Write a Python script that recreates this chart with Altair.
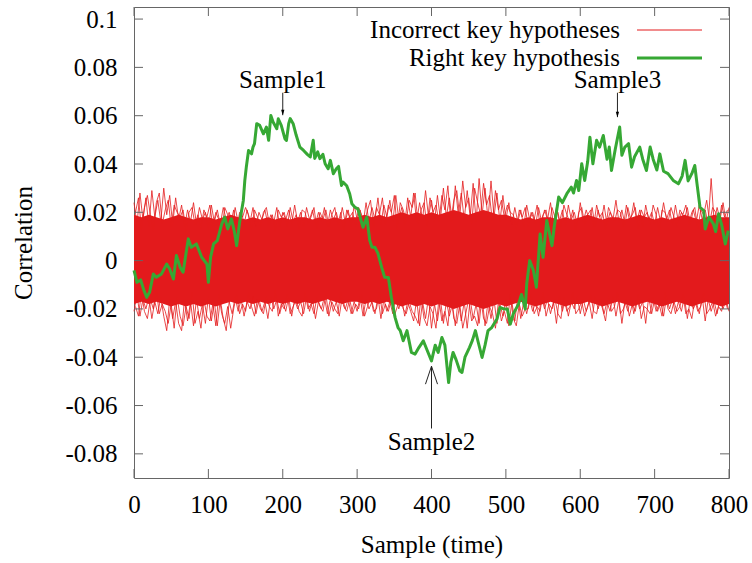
import altair as alt
import pandas as pd

RED = "#e31a1c"
GREEN = "#36a834"
FONT = "Liberation Serif"

# ---- Right key hypothesis (green) ----
green_x = [0, 4, 9, 13, 17, 21, 26, 30, 37, 44, 48, 53, 57, 62, 66, 73, 77, 84, 91, 98,
           100, 103, 107, 112, 118, 122, 126, 131, 135, 138, 142, 147, 149, 151, 154, 158, 160, 162, 165, 169,
           174, 178, 181, 184, 187, 192, 194, 198, 203, 205, 208, 210, 214, 218, 223, 228, 233, 237, 241, 243,
           247, 250, 254, 257, 261, 264, 268, 272, 275, 279, 281, 286, 290, 293, 297, 301, 304, 308, 313, 317,
           320, 324, 328, 333, 337, 342, 346, 351, 355, 358, 362, 367, 373, 378, 383, 389, 394, 400, 405, 409,
           414, 418, 423, 426, 429, 433, 438, 441, 445, 451, 455, 459, 463, 468, 472, 476, 481, 488, 492, 497,
           502, 506, 510, 517, 521, 526, 528, 532, 537, 541, 546, 550, 555, 562, 565, 571, 576, 582, 588, 591,
           595, 598, 602, 606, 610, 613, 617, 622, 626, 631, 636, 639, 642, 647, 653, 656, 660, 665, 669, 673,
           680, 684, 689, 694, 698, 703, 707, 712, 718, 725, 732, 737, 741, 745, 750, 754, 757, 761, 766, 768,
           773, 779, 782, 786, 790, 795, 799]
green_y = [-0.004, -0.009, -0.008, -0.012, -0.0152, -0.0131, -0.0055, -0.0069, -0.0055, -0.0014,
           -0.0035, -0.0076, 0.0021, -0.0028, -0.0048, 0.009, 0.0055, 0.0069, 0.0014, -0.0014,
           -0.009, 0.0014, 0.0069, 0.0083, 0.0152, 0.018, 0.0131, 0.0173, 0.012, 0.0062,
           0.0159, 0.0249, 0.0332, 0.0387, 0.0456, 0.0442, 0.047, 0.0484, 0.0567, 0.056,
           0.0525, 0.0553, 0.0498, 0.0601, 0.0574, 0.0546, 0.0587, 0.056, 0.0504, 0.0498,
           0.0567, 0.0588, 0.0567, 0.052, 0.047, 0.0456, 0.044, 0.0429, 0.0498, 0.0423,
           0.045, 0.0422, 0.044, 0.0401, 0.038, 0.0415, 0.036, 0.038, 0.039, 0.0311,
           0.0325, 0.031, 0.0277, 0.0235, 0.0221, 0.0214, 0.018, 0.0138, 0.018, 0.0083,
           0.0055, 0.0055, 0.003, -0.0028, -0.0069, -0.007, -0.0152, -0.0235, -0.0277, -0.029,
           -0.0332, -0.029, -0.038, -0.0387, -0.036, -0.0332, -0.037, -0.0415, -0.035, -0.038,
           -0.0318, -0.035, -0.0505, -0.042, -0.038, -0.041, -0.0456, -0.0463, -0.04, -0.036,
           -0.033, -0.029, -0.034, -0.0401, -0.035, -0.029, -0.0277, -0.0242, -0.0194, -0.02,
           -0.02, -0.0263, -0.022, -0.018, -0.014, -0.02, -0.0097, 0.0, -0.004, -0.011,
           0.011, 0.0014, 0.0166, 0.0062, 0.014, 0.0263, 0.024, 0.0277, 0.0304, 0.028,
           0.0332, 0.029, 0.0401, 0.0332, 0.041, 0.0511, 0.0401, 0.0498, 0.047, 0.0518,
           0.042, 0.047, 0.0373, 0.046, 0.0553, 0.0436, 0.047, 0.0484, 0.0387, 0.043,
           0.047, 0.042, 0.0373, 0.047, 0.042, 0.0375, 0.0442, 0.037, 0.036, 0.0332,
           0.0318, 0.035, 0.0415, 0.033, 0.036, 0.0394, 0.0318, 0.0221, 0.0207, 0.0131,
           0.018, 0.0152, 0.012, 0.0194, 0.015, 0.0069, 0.0124]

# ---- Incorrect key hypotheses (red band) ----
core_x = list(range(0, 801, 10))
core_hi = [0.019, 0.018, 0.019, 0.018, 0.017, 0.018, 0.019, 0.018, 0.017, 0.018,
           0.018, 0.017, 0.018, 0.019, 0.018, 0.017, 0.018, 0.017, 0.018, 0.017,
           0.018, 0.017, 0.018, 0.018, 0.017, 0.018, 0.017, 0.018, 0.017, 0.018,
           0.018, 0.019, 0.018, 0.019, 0.018, 0.019, 0.020, 0.019, 0.020, 0.019,
           0.020, 0.019, 0.020, 0.021, 0.020, 0.019, 0.020, 0.021, 0.020, 0.019,
           0.019, 0.018, 0.017, 0.018, 0.017, 0.018, 0.018, 0.017, 0.018, 0.017,
           0.018, 0.019, 0.018, 0.017, 0.018, 0.018, 0.017, 0.018, 0.019, 0.018,
           0.017, 0.018, 0.017, 0.018, 0.019, 0.018, 0.017, 0.018, 0.019, 0.018,
           0.018]
core_lo = [-0.018, -0.017, -0.018, -0.017, -0.018, -0.019, -0.018, -0.019, -0.018, -0.019,
           -0.018, -0.019, -0.018, -0.017, -0.018, -0.017, -0.018, -0.017, -0.018, -0.017,
           -0.018, -0.017, -0.018, -0.017, -0.018, -0.017, -0.016, -0.017, -0.018, -0.017,
           -0.017, -0.018, -0.017, -0.018, -0.017, -0.018, -0.019, -0.018, -0.019, -0.018,
           -0.019, -0.018, -0.019, -0.020, -0.019, -0.018, -0.019, -0.020, -0.019, -0.018,
           -0.019, -0.018, -0.017, -0.018, -0.019, -0.018, -0.017, -0.018, -0.019, -0.018,
           -0.018, -0.017, -0.018, -0.019, -0.018, -0.017, -0.018, -0.019, -0.018, -0.017,
           -0.018, -0.019, -0.018, -0.017, -0.018, -0.019, -0.018, -0.017, -0.018, -0.019,
           -0.018]

# edge traces A (samples 0,4,...,800)
edge_x = list(range(0, 801, 4))
upper_edge = [0.024, 0.015, 0.028, 0.017, 0.026, 0.014, 0.029, 0.018, 0.025, 0.016,
              0.030, 0.019, 0.027, 0.015, 0.026, 0.017, 0.023, 0.014, 0.021, 0.016,
              0.024, 0.015, 0.022, 0.017, 0.020, 0.013, 0.023, 0.016, 0.021, 0.015,
              0.022, 0.017, 0.020, 0.014, 0.022, 0.016, 0.021, 0.015, 0.021, 0.016,
              0.022, 0.014, 0.020, 0.017, 0.021, 0.015, 0.019, 0.016, 0.022, 0.014,
              0.020, 0.017, 0.021, 0.015, 0.023, 0.016, 0.020, 0.014, 0.022, 0.017,
              0.021, 0.015, 0.020, 0.016, 0.022, 0.014, 0.021, 0.017, 0.020, 0.015,
              0.022, 0.016, 0.021, 0.014, 0.023, 0.017, 0.021, 0.015, 0.024, 0.016,
              0.022, 0.017, 0.026, 0.015, 0.023, 0.018, 0.025, 0.016, 0.027, 0.017,
              0.022, 0.015, 0.026, 0.018, 0.028, 0.016, 0.024, 0.017, 0.029, 0.018,
              0.025, 0.016, 0.027, 0.017, 0.030, 0.018, 0.026, 0.016, 0.031, 0.019,
              0.028, 0.017, 0.029, 0.018, 0.032, 0.016, 0.034, 0.019, 0.030, 0.017,
              0.033, 0.018, 0.028, 0.016, 0.027, 0.017, 0.024, 0.015, 0.022, 0.016,
              0.021, 0.014, 0.023, 0.017, 0.020, 0.015, 0.022, 0.016, 0.021, 0.017,
              0.024, 0.015, 0.022, 0.016, 0.021, 0.014, 0.023, 0.017, 0.020, 0.015,
              0.024, 0.016, 0.021, 0.017, 0.022, 0.014, 0.021, 0.016, 0.023, 0.015,
              0.020, 0.017, 0.025, 0.016, 0.021, 0.015, 0.022, 0.017, 0.024, 0.016,
              0.021, 0.014, 0.023, 0.017, 0.020, 0.015, 0.022, 0.016, 0.024, 0.017,
              0.021, 0.015, 0.023, 0.016, 0.020, 0.017, 0.022, 0.015, 0.021, 0.016,
              0.023, 0.017, 0.021, 0.015, 0.034, 0.016, 0.022, 0.017, 0.024, 0.016,
              0.022]
lower_edge = [-0.021, -0.014, -0.023, -0.016, -0.020, -0.015, -0.024, -0.017, -0.022, -0.015,
              -0.023, -0.029, -0.016, -0.024, -0.017, -0.026, -0.029, -0.016, -0.025, -0.017,
              -0.027, -0.016, -0.024, -0.018, -0.026, -0.015, -0.025, -0.017, -0.027, -0.016,
              -0.024, -0.029, -0.017, -0.022, -0.015, -0.021, -0.016, -0.023, -0.017, -0.020,
              -0.015, -0.022, -0.016, -0.021, -0.017, -0.024, -0.015, -0.020, -0.016, -0.022,
              -0.017, -0.021, -0.015, -0.023, -0.016, -0.020, -0.017, -0.022, -0.015, -0.021,
              -0.016, -0.024, -0.017, -0.020, -0.015, -0.022, -0.016, -0.021, -0.017, -0.023,
              -0.015, -0.020, -0.016, -0.022, -0.017, -0.021, -0.015, -0.023, -0.016, -0.020,
              -0.017, -0.022, -0.015, -0.024, -0.016, -0.021, -0.017, -0.022, -0.015, -0.020,
              -0.016, -0.023, -0.017, -0.021, -0.025, -0.016, -0.027, -0.017, -0.024, -0.015,
              -0.028, -0.018, -0.025, -0.016, -0.026, -0.017, -0.023, -0.018, -0.027, -0.016,
              -0.025, -0.017, -0.028, -0.016, -0.024, -0.018, -0.026, -0.015, -0.027, -0.017,
              -0.024, -0.016, -0.026, -0.018, -0.023, -0.016, -0.027, -0.017, -0.025, -0.015,
              -0.024, -0.017, -0.022, -0.016, -0.021, -0.017, -0.023, -0.015, -0.020, -0.016,
              -0.022, -0.017, -0.026, -0.015, -0.021, -0.016, -0.023, -0.017, -0.020, -0.015,
              -0.022, -0.016, -0.021, -0.017, -0.024, -0.015, -0.020, -0.016, -0.022, -0.017,
              -0.021, -0.015, -0.023, -0.016, -0.026, -0.017, -0.021, -0.015, -0.022, -0.016,
              -0.020, -0.017, -0.026, -0.015, -0.022, -0.016, -0.021, -0.017, -0.023, -0.015,
              -0.020, -0.016, -0.022, -0.017, -0.021, -0.015, -0.024, -0.016, -0.020, -0.017,
              -0.022, -0.015, -0.025, -0.016, -0.021, -0.017, -0.022, -0.015, -0.020, -0.016,
              -0.021]

# edge traces B (samples 2,6,...,798)
edge_x_b = list(range(2, 800, 4))
upper_edge_b = [0.020, 0.026, 0.013, 0.022, 0.027, 0.019, 0.012, 0.024, 0.028, 0.015,
                0.021, 0.025, 0.014, 0.023, 0.020,
                0.018, 0.021, 0.012, 0.020, 0.022, 0.015, 0.019, 0.013, 0.021, 0.018,
                0.023, 0.014, 0.020, 0.017, 0.012, 0.022, 0.019, 0.015, 0.021, 0.013,
                0.020, 0.018, 0.022,
                0.019, 0.013, 0.021, 0.018, 0.014, 0.020, 0.022, 0.015, 0.019, 0.012,
                0.021, 0.018, 0.020, 0.014, 0.022, 0.016, 0.019, 0.013, 0.021, 0.020,
                0.015, 0.018, 0.022, 0.013, 0.020, 0.017, 0.021, 0.014, 0.019, 0.022,
                0.015, 0.020, 0.012, 0.021, 0.018, 0.020, 0.014, 0.022, 0.019, 0.016,
                0.021, 0.025, 0.014, 0.022, 0.019, 0.026, 0.015, 0.023, 0.020, 0.027,
                0.013, 0.024, 0.021, 0.016, 0.025, 0.022, 0.028, 0.015, 0.021, 0.024,
                0.014, 0.026, 0.020, 0.023, 0.016,
                0.027, 0.021, 0.031, 0.016, 0.025, 0.029, 0.018, 0.033, 0.022, 0.026,
                0.015, 0.030, 0.024, 0.019, 0.032, 0.023, 0.027, 0.016, 0.029, 0.021,
                0.025, 0.018, 0.023, 0.020,
                0.019, 0.013, 0.021, 0.018, 0.022, 0.014, 0.020, 0.017, 0.023, 0.015,
                0.019, 0.021, 0.013, 0.022, 0.018, 0.020, 0.014, 0.023, 0.019, 0.016,
                0.021, 0.012, 0.020, 0.022, 0.015, 0.019, 0.021, 0.014, 0.023, 0.018,
                0.020, 0.013, 0.022, 0.019, 0.016, 0.021, 0.020, 0.014, 0.023, 0.017,
                0.019, 0.022, 0.013, 0.021, 0.018, 0.020, 0.015, 0.023, 0.019, 0.012,
                0.021, 0.020, 0.016, 0.022, 0.018, 0.014, 0.021, 0.019, 0.023, 0.015,
                0.020, 0.022, 0.013, 0.021, 0.019, 0.025, 0.016, 0.022, 0.020, 0.014,
                0.023, 0.018, 0.021]
lower_edge_b = [-0.019, -0.023, -0.013, -0.021, -0.024, -0.016, -0.020, -0.012, -0.022, -0.018,
                -0.021,
                -0.026, -0.018, -0.028, -0.015, -0.023, -0.027, -0.019, -0.024, -0.013, -0.026,
                -0.021, -0.028, -0.016, -0.023, -0.025, -0.018, -0.027, -0.014, -0.022, -0.026,
                -0.019, -0.028,
                -0.020, -0.014, -0.022, -0.018, -0.021, -0.013, -0.019, -0.023, -0.016, -0.020,
                -0.022, -0.015, -0.019, -0.021, -0.012, -0.023, -0.018, -0.020, -0.014, -0.022,
                -0.019, -0.016, -0.021, -0.023, -0.013, -0.020, -0.018, -0.022, -0.015, -0.019,
                -0.021, -0.014, -0.023, -0.017, -0.020, -0.022, -0.013, -0.019, -0.021, -0.016,
                -0.022, -0.018, -0.020, -0.014, -0.023, -0.019, -0.015, -0.021, -0.020, -0.013,
                -0.022, -0.018, -0.021, -0.016, -0.023, -0.019, -0.014, -0.020, -0.022, -0.017,
                -0.021,
                -0.023, -0.026, -0.015, -0.024, -0.027, -0.019, -0.022, -0.028, -0.016, -0.025,
                -0.021, -0.027, -0.014, -0.024, -0.026, -0.018, -0.028, -0.022, -0.016, -0.025,
                -0.023, -0.027, -0.015, -0.024, -0.026, -0.019, -0.022, -0.028, -0.017, -0.025,
                -0.021, -0.026, -0.014, -0.024, -0.027, -0.018, -0.023, -0.020,
                -0.020, -0.014, -0.022, -0.019, -0.021, -0.013, -0.023, -0.018, -0.020, -0.016,
                -0.022, -0.024, -0.015, -0.021, -0.019, -0.013, -0.022, -0.020, -0.017, -0.023,
                -0.019, -0.014, -0.021, -0.022, -0.016, -0.020, -0.025, -0.015, -0.021, -0.019,
                -0.013, -0.022, -0.020, -0.016, -0.023, -0.018, -0.021, -0.014, -0.024, -0.019,
                -0.020, -0.022, -0.015, -0.021, -0.018, -0.023, -0.013, -0.020, -0.022, -0.017,
                -0.021, -0.019, -0.014, -0.022, -0.020, -0.024, -0.016, -0.021, -0.019, -0.013,
                -0.022, -0.020, -0.017, -0.023, -0.019, -0.021, -0.015, -0.020]

# ---- axes / ticks ----
x_ticks = [0, 100, 200, 300, 400, 500, 600, 700, 800]
y_ticks = [0.1, 0.08, 0.06, 0.04, 0.02, 0.0, -0.02, -0.04, -0.06, -0.08]
y_tick_labels = ["0.1", "0.08", "0.06", "0.04", "0.02", "0", "-0.02", "-0.04", "-0.06", "-0.08"]

# ---- annotations ----
ann_label = ["Sample1", "Sample2", "Sample3"]
ann_x = [200, 400, 650]
ann_text_y = [0.0748, -0.0752, 0.0748]
ann_tail_y = [0.0695, -0.0695, 0.0695]
ann_tip_y = [0.0602, -0.0437, 0.0594]

legend_labels = ["Incorrect key hypotheses", "Right key hypothesis"]

W, H = 595, 471
xs = alt.Scale(domain=[0, 800], nice=False, zero=False)
ys = alt.Scale(domain=[-0.09, 0.105], nice=False, zero=False)

# lookup keyed by the tick value in hundredths
label_map = "{" + ",".join(f"'{round(v * 100)}':'{t}'" for v, t in zip(y_ticks, y_tick_labels)) + "}"

x_axis = alt.Axis(values=x_ticks, title="Sample (time)", grid=False, domain=False, ticks=False,
                  labelFont=FONT, labelFontSize=25, labelColor="black", labelPadding=14,
                  titleFont=FONT, titleFontSize=25, titleFontWeight="normal", titleColor="black",
                  titleY=74, titleBaseline="alphabetic", labelFlush=False)
y_axis = alt.Axis(values=y_ticks, title="Correlation", grid=False, domain=False, ticks=False,
                  labelExpr=f"{label_map}['' + round(datum.value * 100)]",
                  labelFont=FONT, labelFontSize=25, labelColor="black", labelPadding=17,
                  titleFont=FONT, titleFontSize=25, titleFontWeight="normal", titleColor="black",
                  titleX=-103, titleBaseline="alphabetic", labelFlush=False)


def X(f):
    return alt.X(f, scale=xs, axis=x_axis)


def Y(f):
    return alt.Y(f, scale=ys, axis=y_axis)


core_df = pd.DataFrame({"s": core_x, "hi": core_hi, "lo": core_lo})
edge_df = pd.DataFrame({"s": edge_x, "up": upper_edge, "dn": lower_edge})
edge_b_df = pd.DataFrame({"s": edge_x_b, "up": upper_edge_b, "dn": lower_edge_b})
green_df = pd.DataFrame({"s": green_x, "v": green_y})
ann_df = pd.DataFrame({"s": ann_x, "label": ann_label, "ty": ann_text_y,
                       "tail": ann_tail_y, "tip": ann_tip_y})
xt_df = pd.DataFrame({"v": x_ticks})
yt_df = pd.DataFrame({"v": y_ticks})

core = alt.Chart(core_df).mark_area(color=RED, opacity=1).encode(
    x=X("s:Q"), y=Y("hi:Q"), y2="lo:Q")

edge_layers = []
for df in (edge_df, edge_b_df):
    for col in ("up", "dn"):
        edge_layers.append(alt.Chart(df).mark_line(color=RED, strokeWidth=0.8).encode(
            x=X("s:Q"), y=Y(f"{col}:Q")))

green = alt.Chart(green_df).mark_line(color=GREEN, strokeWidth=3, strokeJoin="round").encode(
    x=X("s:Q"), y=Y("v:Q"))

TICK_C = "#666666"
tb = alt.Chart(xt_df).mark_rule(color=TICK_C, strokeWidth=1).encode(
    x=X("v:Q"), y=alt.value(H), y2=alt.value(H - 9))
tt = alt.Chart(xt_df).mark_rule(color=TICK_C, strokeWidth=1).encode(
    x=X("v:Q"), y=alt.value(0), y2=alt.value(9))
tl = alt.Chart(yt_df).mark_rule(color=TICK_C, strokeWidth=1).encode(
    y=Y("v:Q"), x=alt.value(0), x2=alt.value(9))
tr = alt.Chart(yt_df).mark_rule(color=TICK_C, strokeWidth=1).encode(
    y=Y("v:Q"), x=alt.value(W), x2=alt.value(W - 9))

ann_text = alt.Chart(ann_df).mark_text(font=FONT, fontSize=25, color="black",
                                       align="center", baseline="middle").encode(
    x=X("s:Q"), y=Y("ty:Q"), text="label:N")
ann_line = alt.Chart(ann_df).mark_rule(color="#222222", strokeWidth=1).encode(
    x=X("s:Q"), y=Y("tail:Q"), y2="tip:Q")
head_down = alt.Chart(ann_df).transform_filter("datum.tip > 0").mark_point(
    shape="M-0.6,-1L0,1L0.6,-1Z", size=30, filled=True, color="black", opacity=1, yOffset=-2.7).encode(
    x=X("s:Q"), y=Y("tip:Q"))
head_up = alt.Chart(ann_df).transform_filter("datum.tip < 0").mark_point(
    shape="M-0.67,1L0,-1L0.67,1", size=324, filled=False, color="#222222", strokeWidth=1,
    opacity=1, yOffset=9).encode(
    x=X("s:Q"), y=Y("tip:Q"))

leg_df = pd.DataFrame({"label": legend_labels, "row": [0, 1]})
leg_text1 = alt.Chart(leg_df).transform_filter("datum.row == 0").mark_text(
    font=FONT, fontSize=25, color="black", align="right", baseline="middle").encode(
    x=alt.value(486), y=alt.value(23), text="label:N")
leg_text2 = alt.Chart(leg_df).transform_filter("datum.row == 1").mark_text(
    font=FONT, fontSize=25, color="black", align="right", baseline="middle").encode(
    x=alt.value(486), y=alt.value(51), text="label:N")
leg_line1 = alt.Chart(leg_df).transform_filter("datum.row == 0").mark_rule(
    color=RED, strokeWidth=1).encode(x=alt.value(503), x2=alt.value(568), y=alt.value(23))
leg_line2 = alt.Chart(leg_df).transform_filter("datum.row == 1").mark_rule(
    color=GREEN, strokeWidth=3).encode(x=alt.value(503), x2=alt.value(568), y=alt.value(51))

chart = alt.layer(
    core, *edge_layers, green, tb, tt, tl, tr,
    ann_line, head_down, head_up, ann_text,
    leg_text1, leg_text2, leg_line1, leg_line2
).properties(
    width=W, height=H,
    padding={"left": 134, "top": 7, "right": 23, "bottom": 85},
    autosize=alt.AutoSizeParams(type="none"),
    background="white",
).configure(
    font=FONT
).configure_view(
    stroke="#666666", strokeWidth=1
).configure_axis(
    labelFont=FONT, titleFont=FONT, labelFontSize=25, titleFontSize=25
)

chart.save("out.html", embed_options={"renderer": "svg", "actions": False})
